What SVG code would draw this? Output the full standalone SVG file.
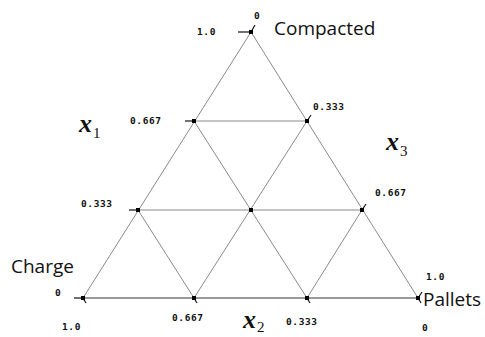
<svg xmlns="http://www.w3.org/2000/svg" width="485" height="337" viewBox="0 0 485 337">
<style>
.g{stroke:#8a8a8a;stroke-width:1;fill:none}
.b{stroke:#999;stroke-width:2;fill:none}
.t{stroke:#111;stroke-width:1.2;fill:none}
.n{font-family:"DejaVu Sans Mono",monospace;font-weight:bold;font-size:9.5px;letter-spacing:0.6px;fill:#111}
.lab{font-family:"Open Sans","Liberation Sans",sans-serif;font-size:19px;fill:#111}
.x{font-family:"Liberation Serif",serif;font-style:italic;font-weight:bold;font-size:26px;fill:#111}
.xs{font-family:"Liberation Serif",serif;font-size:15px;fill:#111}
</style>
<rect width="485" height="337" fill="#fff"/>
<g id="connectors">
<line class="g" x1="251" y1="32" x2="83" y2="298"/>
<line class="g" x1="251" y1="32" x2="418" y2="298"/>
<line class="b" x1="83" y1="298" x2="418" y2="298"/>
<line class="g" x1="194" y1="121" x2="307" y2="121"/>
<line class="g" x1="138" y1="210" x2="362" y2="210"/>
<line class="g" x1="194" y1="298" x2="307" y2="121"/>
<line class="g" x1="307" y1="298" x2="362" y2="210"/>
<line class="g" x1="194" y1="121" x2="307" y2="298"/>
<line class="g" x1="138" y1="210" x2="194" y2="298"/>
</g>
<g id="ticks">
<line class="t" x1="238" y1="32" x2="251" y2="32"/>
<line class="t" x1="251" y1="32" x2="255" y2="25"/>
<line class="t" x1="185" y1="121" x2="194" y2="121"/>
<line class="t" x1="129" y1="210" x2="138" y2="210"/>
<line class="t" x1="74" y1="298" x2="83" y2="298"/>
<line class="t" x1="307" y1="121" x2="311" y2="115"/>
<line class="t" x1="362" y1="210" x2="366" y2="204"/>
<line class="t" x1="418" y1="298" x2="422" y2="292"/>
<line class="t" x1="83" y1="298" x2="86" y2="303"/>
<line class="t" x1="194" y1="298" x2="197" y2="303"/>
<line class="t" x1="307" y1="298" x2="310" y2="303"/>
<line class="t" x1="418" y1="298" x2="421" y2="303"/>
</g>
<g id="points" fill="#000">
<rect x="249" y="30" width="4" height="4"/>
<rect x="192" y="119" width="4" height="4"/>
<rect x="305" y="119" width="4" height="4"/>
<rect x="136" y="208" width="4" height="4"/>
<rect x="249" y="208" width="4" height="4"/>
<rect x="360" y="208" width="4" height="4"/>
<rect x="81" y="296" width="4" height="4"/>
<rect x="192" y="296" width="4" height="4"/>
<rect x="305" y="296" width="4" height="4"/>
<rect x="416" y="296" width="4" height="4"/>
</g>
<g id="labels">
<text class="n" x="197" y="35">1.0</text>
<text class="n" x="254" y="19">0</text>
<text class="n" x="130" y="124">0.667</text>
<text class="n" x="81" y="207">0.333</text>
<text class="n" x="55" y="296">0</text>
<text class="n" x="62" y="330">1.0</text>
<text class="n" x="172" y="321">0.667</text>
<text class="n" x="286" y="325">0.333</text>
<text class="n" x="422" y="331">0</text>
<text class="n" x="313" y="110">0.333</text>
<text class="n" x="375" y="196">0.667</text>
<text class="n" x="426" y="280">1.0</text>
<text class="lab" x="274" y="35">Compacted</text>
<text class="lab" x="11" y="273">Charge</text>
<text class="lab" x="423" y="306">Pallets</text>
<text class="x" x="79" y="132">x</text><text class="xs" x="93" y="138">1</text>
<text class="x" x="243" y="328">x</text><text class="xs" x="257" y="332">2</text>
<text class="x" x="386" y="150">x</text><text class="xs" x="400" y="156">3</text>
</g>
</svg>
